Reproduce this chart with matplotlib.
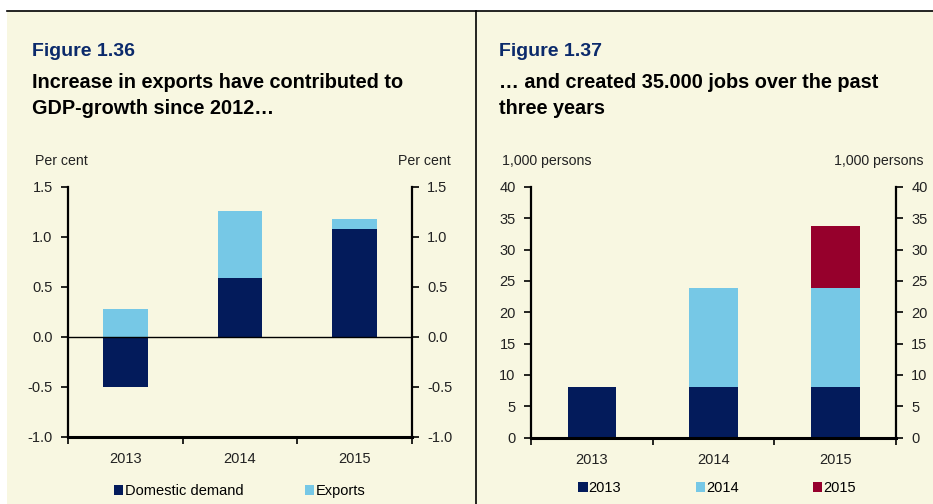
import matplotlib.pyplot as plt
import numpy as np
from matplotlib.patches import Rectangle
from matplotlib.lines import Line2D

plt.rcParams['font.family'] = ['Liberation Sans', 'DejaVu Sans']

years = ['2013', '2014', '2015']

# Figure 1.36: contributions to GDP growth (per cent)
domestic_demand = [-0.50, 0.59, 1.08]
exports = [0.28, 0.67, 0.10]

# Figure 1.37: employment growth by year of creation (1,000 persons)
jobs_2013 = [8.0, 8.0, 8.0]
jobs_2014 = [0.0, 15.8, 15.8]
jobs_2015 = [0.0, 0.0, 9.9]

NAVY = '#031B5B'
LIGHT = '#76C8E6'
RED = '#96002C'
BG = '#F8F7E1'

W, H = 933, 504
fig = plt.figure(figsize=(W / 100, H / 100), dpi=100, facecolor='white')

# panel background and frame lines
fig.patches.append(Rectangle((7 / W, 0), 1 - 7 / W, (H - 11) / H,
                             transform=fig.transFigure, facecolor=BG, edgecolor='none', zorder=-5))
fig.lines.append(Line2D([7 / W, 1], [(H - 10.5) / H] * 2, transform=fig.transFigure,
                        color='black', lw=1.2))
fig.lines.append(Line2D([476 / W] * 2, [0, (H - 10.5) / H], transform=fig.transFigure,
                        color='black', lw=1.2))


def fx(px):
    return px / W


def fy(py):
    return (H - py) / H


def setup_axes(ax, ylim, yticks, fmt):
    ax.set_facecolor('none')
    ax.set_xlim(-0.5, 2.5)
    ax.set_ylim(*ylim)
    ax.set_yticks(yticks)
    ax.set_yticklabels([fmt(v) for v in yticks])
    ax.spines['top'].set_visible(False)
    for s in ['left', 'right']:
        ax.spines[s].set_linewidth(1.6)
    ax.spines['bottom'].set_linewidth(2.2)
    ax.tick_params(axis='y', direction='out', length=5, width=1.2, labelsize=10.5,
                   labelcolor='#222222', pad=6, left=True, right=True,
                   labelleft=True, labelright=True)
    ax.set_xticks([0, 1, 2])
    ax.set_xticklabels(years)
    ax.set_xticks([-0.5, 0.5, 1.5, 2.5], minor=True)
    ax.tick_params(axis='x', which='major', length=0, labelsize=10.5, labelcolor='#222222', pad=11)
    ax.tick_params(axis='x', which='minor', direction='out', length=5, width=1.2)


x = np.arange(len(years))

# ---- Figure 1.36 ----
ax1 = fig.add_axes([fx(68), fy(437), fx(412) - fx(68), fy(187) - fy(437)])
w1 = 0.39
pos_base = [max(d, 0) for d in domestic_demand]
ax1.bar(x, domestic_demand, w1, color=NAVY, label='Domestic demand', zorder=2)
ax1.bar(x, exports, w1, bottom=pos_base, color=LIGHT, label='Exports', zorder=2)
ax1.axhline(0, color='black', lw=1, zorder=3)
setup_axes(ax1, (-1.0, 1.5), [-1.0, -0.5, 0.0, 0.5, 1.0, 1.5], lambda v: f'{v:.1f}')

fig.text(fx(32), fy(52), 'Figure 1.36', fontsize=14, fontweight='bold', color='#0B2A6B', va='center')
fig.text(fx(32), fy(83), 'Increase in exports have contributed to', fontsize=14.3, fontweight='bold', va='center')
fig.text(fx(32), fy(109), 'GDP-growth since 2012…', fontsize=14.3, fontweight='bold', va='center')
fig.text(fx(35), fy(161), 'Per cent', fontsize=10.2, color='#222222', va='center')
fig.text(fx(451), fy(161), 'Per cent', fontsize=10.2, color='#222222', va='center', ha='right')

ax1.legend(loc='center', bbox_to_anchor=(fx(240), fy(491)), bbox_transform=fig.transFigure,
           ncol=2, frameon=False, fontsize=10.5, handlelength=0.6, handleheight=0.65,
           handletextpad=0.15, columnspacing=4.2, borderaxespad=0)

# ---- Figure 1.37 ----
ax2 = fig.add_axes([fx(531), fy(437.5), fx(896) - fx(531), fy(187) - fy(437.5)])
w2 = 0.40
b2 = [a + b for a, b in zip(jobs_2013, jobs_2014)]
ax2.bar(x, jobs_2013, w2, color=NAVY, label='2013', zorder=2)
ax2.bar(x, jobs_2014, w2, bottom=jobs_2013, color=LIGHT, label='2014', zorder=2)
ax2.bar(x, jobs_2015, w2, bottom=b2, color=RED, label='2015', zorder=2)
setup_axes(ax2, (0, 40), list(range(0, 45, 5)), lambda v: f'{v:d}')

fig.text(fx(499), fy(52), 'Figure 1.37', fontsize=14, fontweight='bold', color='#0B2A6B', va='center')
fig.text(fx(499), fy(83), '… and created 35.000 jobs over the past', fontsize=14.3, fontweight='bold', va='center')
fig.text(fx(499), fy(109), 'three years', fontsize=14.3, fontweight='bold', va='center')
fig.text(fx(502), fy(161), '1,000 persons', fontsize=10.2, color='#222222', va='center')
fig.text(fx(924), fy(161), '1,000 persons', fontsize=10.2, color='#222222', va='center', ha='right')

ax2.legend(loc='center', bbox_to_anchor=(fx(717), fy(488)), bbox_transform=fig.transFigure,
           ncol=3, frameon=False, fontsize=10.5, handlelength=0.65, handleheight=0.65,
           handletextpad=0.05, columnspacing=5.1, borderaxespad=0)

fig.savefig('out.png', dpi=100, facecolor='white')
